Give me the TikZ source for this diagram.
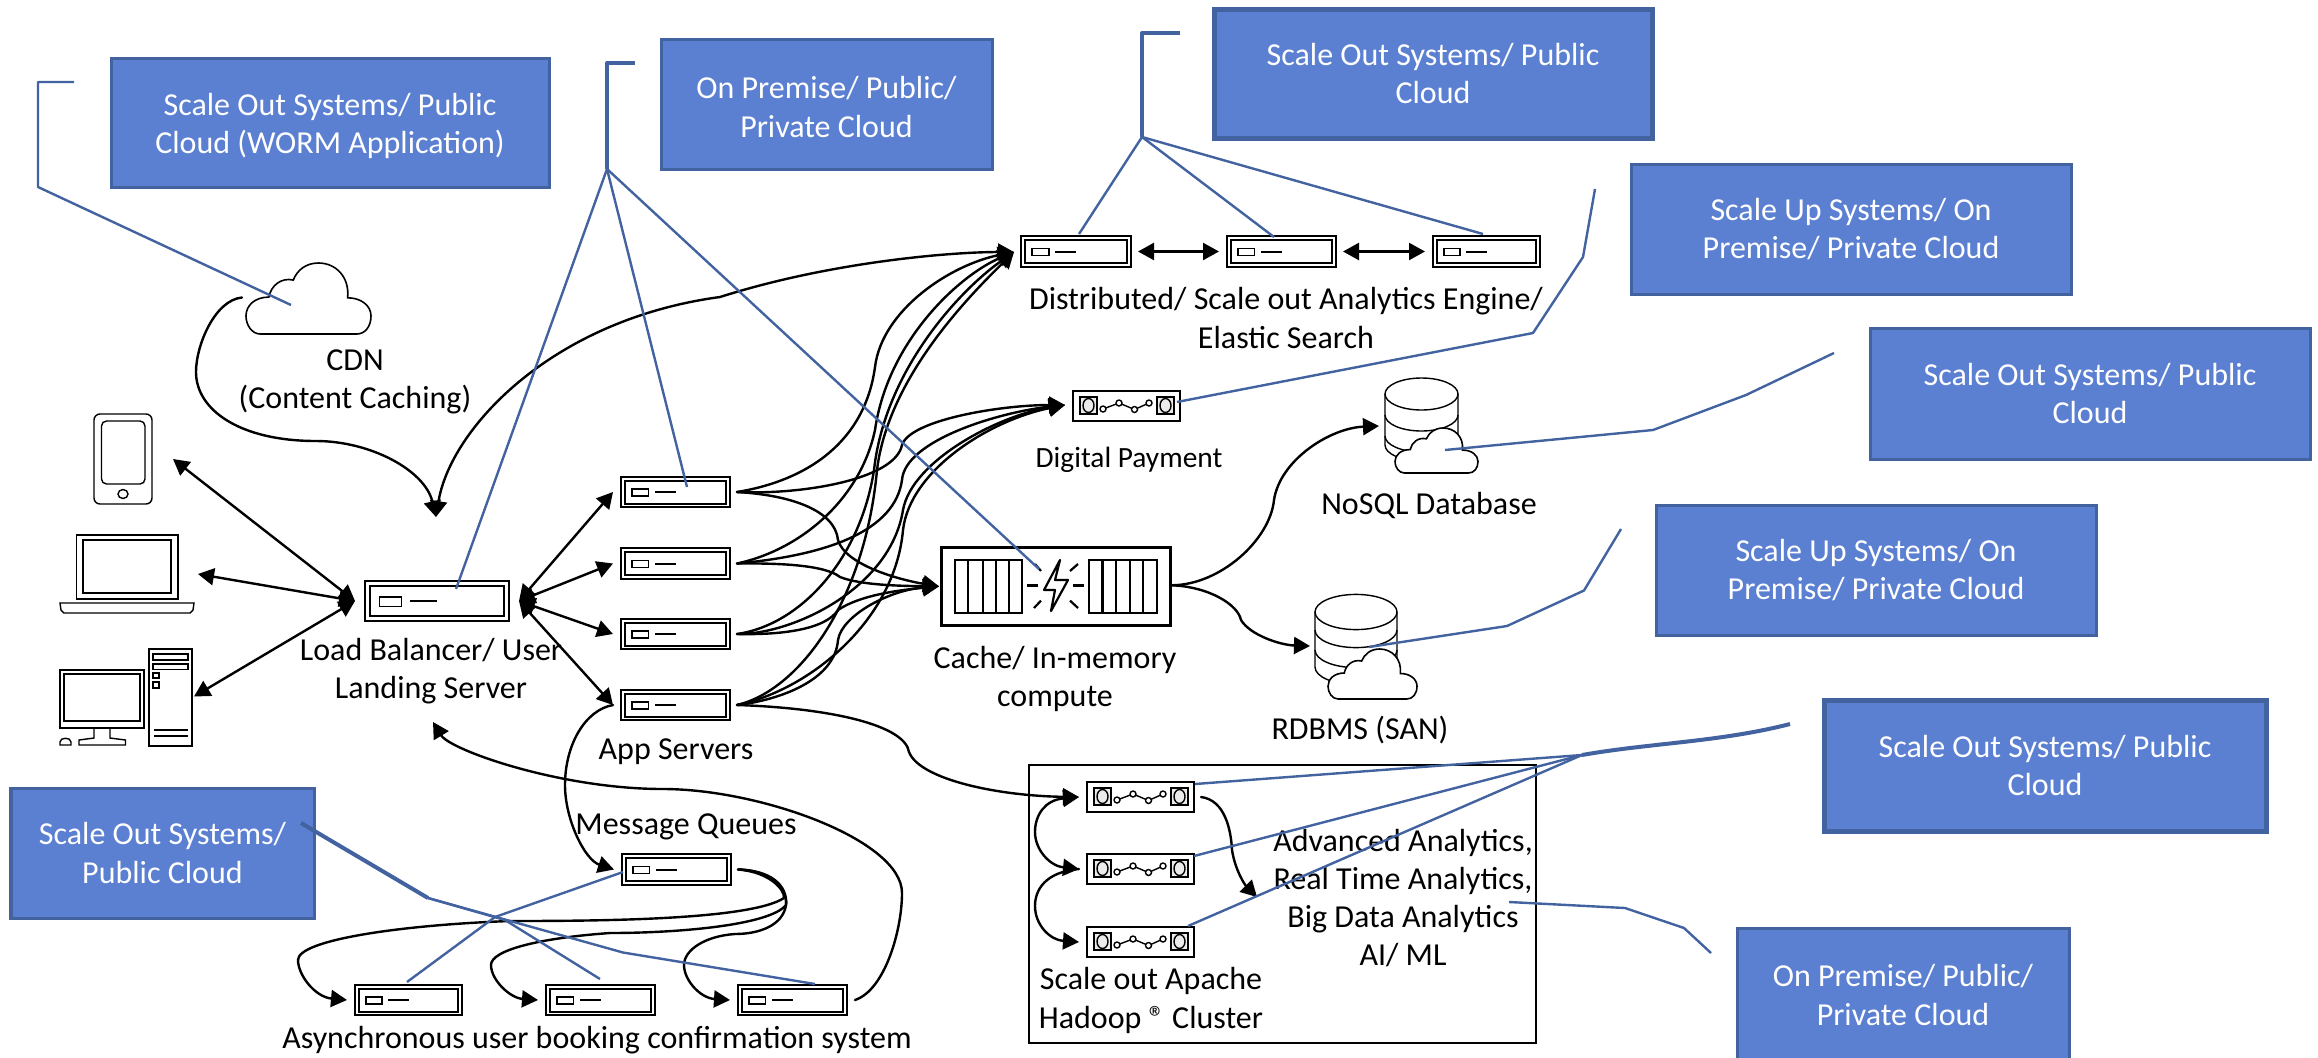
\documentclass[tikz,border=0pt]{standalone}
\usepackage{fontspec}
\setmainfont{Carlito}
\usetikzlibrary{arrows.meta,calc}
\definecolor{boxfill}{RGB}{91,127,209}
\definecolor{boxline}{RGB}{66,98,160}
\tikzset{
  lab/.style={align=center,inner sep=0,outer sep=0,text=black,font=\fontsize{9.1}{10.85}\selectfont},
  smalllab/.style={lab,font=\fontsize{8.35}{10}\selectfont},
  bluebox/.style={draw=boxline,fill=boxfill,line width=0.03cm,align=center,text=white,inner sep=0,outer sep=0,font=\fontsize{9.1}{10.85}\selectfont},
  heavybox/.style={bluebox,line width=0.05cm},
  srvbox/.style={draw=black,line width=0.02cm,fill=white,inner sep=0,outer sep=0},
  ghost/.style={inner sep=0,outer sep=0},
  icon/.style={draw=black,line width=0.014cm},
  tipa/.tip={Triangle[length=0.16cm,width=0.17cm]},
  conn/.style={draw=black,line width=0.024cm,line cap=round,-tipa},
  biconn/.style={draw=black,line width=0.024cm,tipa-tipa},
  leader/.style={draw=boxline,line width=0.024cm,line join=round},
  leaderB/.style={draw=boxline,line width=0.04cm,line join=round},
}
\newcommand{\placenode}[6][]{%
  \pgfmathsetmacro{\bw}{#5-#3}\pgfmathsetmacro{\bh}{#6-#4}%
  \node[ghost,minimum width=\bw*0.01cm,minimum height=\bh*0.01cm,#1] (#2) at ({(#3+#5)/2},{(#4+#6)/2}) {};%
}
\newcommand{\placebox}[7][bluebox]{%
  \pgfmathsetmacro{\bw}{#5-#3}\pgfmathsetmacro{\bh}{#6-#4}%
  \node[#1,minimum width=\bw*0.01cm,minimum height=\bh*0.01cm] (#2) at ({(#3+#5)/2},{(#4+#6)/2}) {#7};%
}
% server icon: name x1 y1 x2 y2
\newcommand{\serversym}[5]{%
  \placenode[srvbox]{#1}{#2}{#3}{#4}{#5}%
  \coordinate (#1-l) at ($(#1.west)+(-8,0)$);%
  \coordinate (#1-r) at ($(#1.east)+(7,0)$);%
  \begin{scope}[shift={(#2,#3)},xscale=(#4-#2)/109,yscale=(#5-#3)/30]
    \draw[line width=0.02cm] (4,3.5) rectangle (105,26.5);
    \draw[line width=0.016cm] (11,12) rectangle (27.5,19);
    \draw[line width=0.02cm] (34,15.3) -- (54.5,15.3);
  \end{scope}%
}
% chain icon
\newcommand{\chainsym}[5]{%
  \placenode[srvbox]{#1}{#2}{#3}{#4}{#5}%
  \coordinate (#1-l) at ($(#1.west)+(-8,0)$);%
  \coordinate (#1-r) at ($(#1.east)+(7,0)$);%
  \begin{scope}[shift={(#2,#3)}]
    \draw[line width=0.014cm,fill=black!8] (7,6) rectangle (24,23);
    \draw[line width=0.014cm,fill=black!8] (84,6) rectangle (101,23);
    \draw[line width=0.014cm] (15.5,14.5) ellipse (5.5 and 7);
    \draw[line width=0.014cm] (92.5,14.5) ellipse (5.5 and 7);
    \draw[line width=0.014cm] (30,18) -- (46,12) -- (61.5,18.5) -- (76,12);
    \foreach \cx/\cy in {30/18,46/12,61.5/18.5,76/12}
      \draw[line width=0.014cm,fill=white] (\cx,\cy) circle (3);
  \end{scope}%
}
\newcommand{\cloudsym}[4]{%
  \begin{scope}[shift={(#1,#2)},xscale=#3-#1,yscale=#4-#2]
    \draw[line width=0.016cm,fill=white] (0.114,1) -- (0.886,1) .. controls (0.95,1) and (1,0.9) .. (1,0.745) .. controls (1,0.6) and (0.92,0.49) .. (0.813,0.49) .. controls (0.83,0.2) and (0.72,0) .. (0.58,0) .. controls (0.48,0) and (0.41,0.1) .. (0.378,0.24) .. controls (0.28,0.2) and (0.2,0.32) .. (0.183,0.48) .. controls (0.07,0.48) and (0,0.6) .. (0,0.745) .. controls (0,0.88) and (0.05,1) .. (0.114,1) -- cycle;
  \end{scope}%
}
\begin{document}
\begin{tikzpicture}[x=0.01cm,y=-0.01cm]
\useasboundingbox (0,0) rectangle (2318,1057);
\begin{scope}
\clip (0,0) rectangle (2318,1057);
% blue boxes
\placebox{b1}{111}{58}{549}{187}{\rule{0pt}{8.5pt}Scale Out Systems/ Public\\Cloud (WORM Application)}
\placebox{b2}{661}{39}{992}{169}{\rule{0pt}{8pt}On Premise/ Public/\\Private Cloud}
\placebox[heavybox]{b3}{1214}{9}{1652}{138}{Scale Out Systems/ Public\\Cloud}
\placebox{b4}{1631}{164}{2071}{294}{Scale Up Systems/ On\\Premise/ Private Cloud}
\placebox{b5}{1870}{328}{2310}{459}{Scale Out Systems/ Public\\Cloud}
\placebox{b6}{1656}{505}{2096}{635}{Scale Up Systems/ On\\Premise/ Private Cloud}
\placebox[heavybox]{b7}{1824}{700}{2266}{831}{Scale Out Systems/ Public\\Cloud}
\placebox{b8}{1737}{928}{2069}{1062}{On Premise/ Public/\\Private Cloud}
\placebox{b9}{11}{788}{314}{918}{Scale Out Systems/\\Public Cloud}

% Hadoop frame
\placenode[draw=black,line width=0.012cm]{hadoopframe}{1029}{765}{1536}{1043}

% phone
\placenode[draw=black,line width=0.014cm,rounded corners=0.06cm]{phone}{94}{414}{152}{504}
\draw[icon,rounded corners=0.05cm] (101.5,421) rectangle (145,484);
\draw[icon] (123,494) ellipse (5 and 4.5);
% laptop
\placenode{laptop}{60}{535}{194}{613}
\draw[icon] (76.5,535) rectangle (178,599);
\draw[icon] (83,540) rectangle (171,593);
\draw[icon] (60,603) -- (194,603) -- (193,610) -- (190,613) -- (64,613) -- (61,610) -- cycle;
% desktop
\placenode{desktop}{60}{649}{192}{746}
\draw[icon] (60,670) rectangle (144,728);
\draw[icon] (64,674) rectangle (140,721);
\draw[icon] (94,728) -- (94,738) -- (79,740) -- (79,745) -- (125.5,745) -- (125.5,740) -- (110,738) -- (110,728);
\draw[icon] (60,745) -- (60,742) .. controls (60,737) and (71,737) .. (71,742) -- (71,745) -- cycle;
\draw[icon] (149,649) rectangle (192,746);
\draw[icon] (153,654) rectangle (188,660);
\draw[icon] (153,664) rectangle (188,669.5);
\draw[icon] (153,673) rectangle (159,678);
\draw[icon] (153,682) rectangle (159,688);
\draw[icon] (154,730) -- (188,730);
\draw[icon] (154,736) -- (188,736);
% CDN
\placenode{cdn}{246}{263}{371}{334}
\cloudsym{246}{263}{371}{334}

% servers
\serversym{lb}{365}{581}{509}{621}
\serversym{app1}{621}{477}{730}{507}
\serversym{app2}{621}{548}{730}{579}
\serversym{app3}{621}{619}{730}{649}
\serversym{app4}{621}{690}{730}{720}
\serversym{mq}{622}{854}{731}{885}
\serversym{as1}{355}{985}{462}{1015}
\serversym{as2}{546}{985}{655}{1015}
\serversym{as3}{738}{985}{847}{1015}
\serversym{es1}{1021}{236}{1131}{267}
\serversym{es2}{1227}{236}{1336}{267}
\serversym{es3}{1433}{236}{1540}{267}
\chainsym{pay}{1073}{391}{1180}{421}
\chainsym{h1}{1087}{782}{1194}{812}
\chainsym{h2}{1087}{854}{1194}{884}
\chainsym{h3}{1087}{927}{1194}{957}

% cache
\placenode[draw=black,line width=0.03cm]{cache}{941}{547.5}{1170}{625}
\draw[line width=0.028cm] (955,560) rectangle (1022,613);
\draw[line width=0.028cm] (1089,560) rectangle (1157,613);
\foreach \vx in {968,983,996,1009,1102.5,1116,1130,1143}
  \draw[line width=0.026cm] (\vx,560) -- (\vx,613);
\draw[line width=0.022cm,line join=round] (1060,560) -- (1044,590) -- (1055,590) -- (1051,611) -- (1068,580) -- (1055,580) -- cycle;
\draw[line width=0.022cm] (1027,585.5) -- (1038,585.5);
\draw[line width=0.022cm] (1073,585.5) -- (1084,585.5);
\draw[line width=0.022cm] (1035,564) -- (1041,571);
\draw[line width=0.022cm] (1078,564) -- (1070,571);
\draw[line width=0.022cm] (1041,600.6) -- (1034,608);
\draw[line width=0.022cm] (1070,600.6) -- (1078,608);

% NoSQL
\placenode{nosql}{1385}{378}{1458}{458}
\draw[icon,fill=white] (1385,394) -- (1385,445) arc[start angle=180,end angle=360,x radius=36.5,y radius=-16] -- (1458,394);
\draw[icon] (1421.5,394) ellipse (36.5 and 16);
\draw[icon] (1385,415) arc[start angle=180,end angle=360,x radius=36.5,y radius=-16];
\draw[icon] (1385,436) arc[start angle=180,end angle=360,x radius=36.5,y radius=-16];
\cloudsym{1395}{428}{1478}{473}
% RDBMS
\placenode{rdbms}{1315}{594}{1397}{685}
\draw[icon,fill=white] (1315,612) -- (1315,667) arc[start angle=180,end angle=360,x radius=41,y radius=-17.6] -- (1397,612);
\draw[icon] (1356,612) ellipse (41 and 17.6);
\draw[icon] (1315,630) arc[start angle=180,end angle=360,x radius=41,y radius=-17.6];
\draw[icon] (1315,650) arc[start angle=180,end angle=360,x radius=41,y radius=-17.6];
\cloudsym{1328}{649}{1417}{699}

% labels
\node[lab] (tcdn) at (355,382) {CDN\\(Content Caching)};
\node[lab] (tlb) at (431,671.5) {Load Balancer/ User\\Landing Server};
\node[lab] (tapp) at (676,752) {App Servers};
\node[lab] (tmq) at (686,827) {Message Queues};
\node[lab] (tas) at (597,1040) {Asynchronous user booking confirmation system};
\node[lab] (tes) at (1286,318) {Distributed/ Scale out Analytics Engine/\\Elastic Search};
\node[smalllab] (tpay) at (1129,460) {Digital Payment};
\node[lab] (tnosql) at (1429,505) {NoSQL Database};
\node[lab] (tcache) at (1055,679) {Cache/ In-memory\\compute};
\node[lab] (trdbms) at (1360,730) {RDBMS (SAN)};
\node[lab] (thadoop) at (1151,1000.5) {Scale out Apache\\Hadoop ® Cluster};
\node[lab] (taa) at (1403,898) {Advanced Analytics,\\Real Time Analytics,\\Big Data Analytics\\AI/ ML};

% port coordinates
\coordinate (lb-n) at ($(lb.north)+(-1,-64)$);
\coordinate (lb-s) at ($(lb.south)+(-4,101)$);
\coordinate (lb-ll) at ($(lb.west)+(-10,0)$);
\coordinate (lb-rr) at ($(lb.east)+(10,0)$);
\coordinate (es1-t) at ($(es1.west)+(-7,0.5)$);
\coordinate (pay-t) at ($(pay.west)+(-8,-1)$);
\coordinate (cache-t) at ($(cache.west)+(-2,0)$);
\coordinate (cache-o) at ($(cache.east)+(2,-1)$);
\coordinate (nosql-t) at ($(nosql.west)+(-6,8)$);
\coordinate (rdbms-t) at ($(rdbms.west)+(-5,6.5)$);
\coordinate (aa-l) at (1257,897);

% connectors to load balancer
\draw[biconn] ($(phone.east)+(21,0)$) -- (lb-ll);
\draw[biconn] ($(laptop.east)+(4,0)$) -- (lb-ll);
\draw[biconn] ($(desktop.east)+(2,-1)$) -- (lb-ll);
\draw[biconn] (lb-rr) -- (app1-l);
\draw[biconn] (lb-rr) -- (app2-l);
\draw[biconn] (lb-rr) -- (app3-l);
\draw[biconn] (lb-rr) -- (app4-l);
\draw[conn] ($(cdn.west)+(-4,-1)$) .. controls (215,300) and (196,345) .. (196,372) .. controls (196,410) and (240,441) .. (316,441) .. controls (370,441) and (425,470) .. (lb-n);
\draw[biconn] (lb-n) .. controls (450,430) and (550,320) .. (720,297) .. controls (830,262) and (950,252) .. (es1-t);
% to S1
\draw[conn] (app1-r) .. controls (810,480) and (865,440) .. (875,367) .. controls (882,310) and (950,265) .. (es1-t);
\draw[conn] (app2-r) .. controls (800,550) and (860,500) .. (875,430) .. controls (888,340) and (960,275) .. (es1-t);
\draw[conn] (app3-r) .. controls (800,625) and (860,560) .. (874,470) .. controls (885,370) and (960,290) .. (es1-t);
\draw[conn] (app4-r) .. controls (800,690) and (865,600) .. (877,470) .. controls (888,380) and (965,300) .. (es1-t);
% to digital payment
\draw[conn] (app1-r) .. controls (800,495) and (895,480) .. (902,445) .. controls (910,420) and (1000,405) .. (pay-t);
\draw[conn] (app2-r) .. controls (830,555) and (895,530) .. (902,480) .. controls (905,440) and (1000,412) .. (pay-t);
\draw[conn] (app3-r) .. controls (790,635) and (890,590) .. (903,510) .. controls (912,460) and (1000,415) .. (pay-t);
\draw[conn] (app4-r) .. controls (810,690) and (895,620) .. (903,530) .. controls (910,470) and (990,420) .. (pay-t);
% to cache
\draw[conn] (app1-r) .. controls (790,495) and (835,510) .. (838,540) .. controls (845,565) and (900,580) .. (cache-t);
\draw[conn] (app2-r) .. controls (780,563) and (825,565) .. (840,577) .. controls (860,585) and (900,586) .. (cache-t);
\draw[conn] (app3-r) .. controls (780,635) and (825,630) .. (838,610) .. controls (860,595) and (900,590) .. (cache-t);
\draw[conn] (app4-r) .. controls (780,700) and (835,680) .. (838,640) .. controls (842,615) and (890,590) .. (cache-t);
% to hadoop
\draw[conn] (app4-r) .. controls (830,708) and (905,725) .. (909,752) .. controls (920,780) and (1000,796) .. (h1-l);
% to mq
\draw[conn] (app4-l) .. controls (585,710) and (565,745) .. (565,785) .. controls (565,820) and (585,860) .. (mq-l);
% as3 back to lb
\draw[conn] ($(as3.east)+(8,0)$) .. controls (885,990) and (902,930) .. (902,893) .. controls (902,840) and (760,789) .. (663,789) .. controls (560,789) and (450,750) .. (lb-s);
% mq to async
\draw[conn] (mq-r) .. controls (770,872) and (785,890) .. (784,898) .. controls (750,920) and (600,921) .. (510,921) .. controls (400,925) and (298,940) .. (298,960) .. controls (298,975) and (315,997) .. (as1-l);
\draw[conn] (mq-r) .. controls (770,870) and (788,885) .. (786,905) .. controls (770,925) and (680,933) .. (610,933) .. controls (540,938) and (491,950) .. (491,965) .. controls (491,980) and (510,998) .. (as2-l);
\draw[conn] (mq-r) .. controls (770,870) and (788,890) .. (786,905) .. controls (783,925) and (760,934) .. (735,934) .. controls (705,936) and (684,950) .. (684,965) .. controls (684,980) and (700,998) .. (as3-l);
% analytics engine
\draw[biconn] (es1-r) -- (es2-l);
\draw[biconn] (es2-r) -- (es3-l);
% cache out
\draw[conn] (cache-o) .. controls (1220,585) and (1270,540) .. (1274,500) .. controls (1280,460) and (1330,428) .. (nosql-t);
\draw[conn] (cache-o) .. controls (1210,587) and (1238,605) .. (1241,620) .. controls (1250,635) and (1280,645) .. (rdbms-t);
% hadoop
\draw[biconn] (h1-l) .. controls (1045,800) and (1035,815) .. (1035,832) .. controls (1035,850) and (1050,866) .. (h2-l);
\draw[conn] (h2-l) .. controls (1045,872) and (1035,890) .. (1035,906) .. controls (1035,925) and (1050,940) .. (h3-l);
\draw[conn] (h1-r) .. controls (1225,800) and (1231,830) .. (1232,850) .. controls (1235,870) and (1245,885) .. (aa-l);

% blue leaders
\draw[leader] (74,82) -- (38,82) -- (38,187) -- (291,305);
\coordinate (hub2) at (607,169);
\draw[leaderB] (635,63) -- (607,63) -- (hub2);
\draw[leader] (hub2) -- (456,589);
\draw[leader] (hub2) -- (687,487);
\draw[leader] (hub2) -- (1039,569);
\coordinate (hub3) at (1142,137);
\draw[leaderB] (1180,33) -- (1142,33) -- (hub3);
\draw[leader] (hub3) -- (1079,234);
\draw[leader] (hub3) -- (1274,237);
\draw[leader] (hub3) -- (1483,234);
\draw[leader] (1177,402) -- (1533,333) -- (1583,257) -- (1595,189);
\draw[leader] (1445,450) -- (1653,430) -- (1746,395) -- (1834,353);
\draw[leader] (1369,647) -- (1507,626) -- (1584,590.5) -- (1621,529);
\coordinate (hub7) at (1582,755);
\draw[leaderB] (hub7) .. controls (1650,743) and (1720,742) .. (1790,724);
\draw[leader] (hub7) -- (1195,784);
\draw[leader] (hub7) -- (1194,856);
\draw[leader] (hub7) -- (1188,926);
\draw[leader] (1509,902) -- (1625,908) -- (1684,928) -- (1711,953);
\coordinate (hub9) at (428,898);
\draw[leaderB] (301,823) -- (hub9);
\draw[leader] (hub9) -- (623,952.5) -- (815,984);
\draw[leader] (hub9) -- (505,920) -- (600,979);
\draw[leader] (407,982) -- (495,917) -- (623,872);
\end{scope}
\end{tikzpicture}
\end{document}
